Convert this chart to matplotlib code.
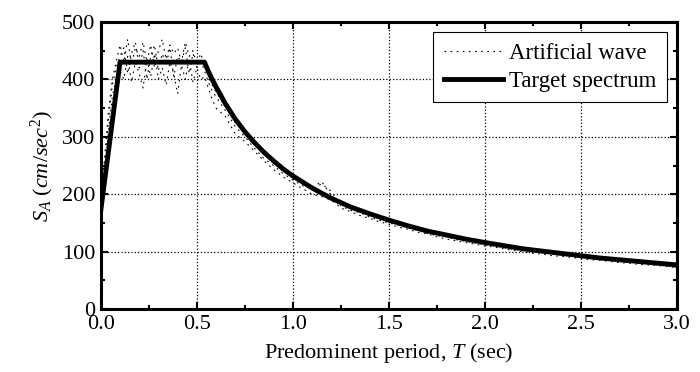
import numpy as np
import matplotlib
matplotlib.use('Agg')
import matplotlib.pyplot as plt
from matplotlib.ticker import MultipleLocator

plt.rcParams['font.family'] = 'Liberation Serif'
plt.rcParams['mathtext.fontset'] = 'custom'
plt.rcParams['mathtext.rm'] = 'Liberation Serif'
plt.rcParams['mathtext.it'] = 'Liberation Serif:italic'

# target design spectrum
t_target = [0.0, 0.1, 0.54, 0.56, 0.58, 0.6, 0.65, 0.7, 0.75, 0.8, 0.85, 0.9, 0.95, 1.0,
            1.1, 1.2, 1.3, 1.4, 1.5, 1.6, 1.7, 1.8, 1.9, 2.0, 2.2, 2.4, 2.6, 2.8, 3.0]
sa_target = [172, 430, 430, 414, 400, 387, 357, 331, 309, 290, 273, 258, 244, 232,
             211, 193, 178, 166, 155, 145, 136, 129, 122, 116, 105, 97, 89, 83, 77]

# artificial waves (periods)
t_short = [0.00, 0.02, 0.04, 0.06, 0.08, 0.10, 0.12, 0.14, 0.16, 0.18, 0.20, 0.22, 0.24,
           0.26, 0.28, 0.30, 0.32, 0.34, 0.36, 0.38, 0.40, 0.42, 0.44, 0.46, 0.48, 0.50,
           0.52, 0.54, 0.56, 0.58, 0.60]
t_long = [0.65, 0.70, 0.75, 0.80, 0.85, 0.90, 0.95, 1.00, 1.05, 1.10, 1.15, 1.20, 1.25,
          1.30, 1.35, 1.40, 1.45, 1.50, 1.55, 1.60, 1.65, 1.70, 1.75, 1.80, 1.85, 1.90,
          1.95, 2.00, 2.05, 2.10, 2.15, 2.20, 2.25, 2.30, 2.35, 2.40, 2.45, 2.50, 2.55,
          2.60, 2.65, 2.70, 2.75, 2.80, 2.85, 2.90, 2.95, 3.00]

wave1 = [180, 250, 330, 390, 420, 440, 455, 410, 445, 465, 420, 450, 400, 440, 460, 415,
         445, 425, 455, 405, 440, 430, 455, 410, 445, 420, 435, 415, 395, 380, 370,
         345, 318, 300, 280, 262, 250, 236, 225, 215, 210, 218, 205, 180, 172, 168, 160,
         155, 150, 146, 141, 137, 132, 128, 126, 121, 118, 115, 112, 110, 107, 104, 102,
         100, 98, 96, 94, 92, 90, 88, 87, 85, 83, 82, 80, 79, 77, 75, 73]
wave2 = [175, 230, 310, 370, 400, 415, 400, 440, 395, 430, 410, 385, 435, 405, 445, 400,
         420, 390, 430, 410, 375, 425, 400, 435, 395, 420, 400, 405, 385, 365, 350,
         335, 305, 292, 275, 258, 243, 230, 220, 210, 200, 196, 190, 176, 170, 163, 158,
         152, 148, 143, 139, 134, 131, 126, 122, 119, 116, 113, 110, 108, 105, 102, 100,
         97, 96, 93, 92, 90, 88, 86, 85, 83, 81, 80, 78, 77, 76, 74, 72]
wave3 = [190, 265, 345, 400, 430, 460, 430, 470, 425, 455, 440, 465, 430, 460, 420, 450,
         470, 435, 460, 445, 455, 430, 465, 440, 450, 425, 445, 425, 405, 390, 378,
         352, 325, 308, 290, 270, 255, 240, 228, 218, 212, 222, 198, 185, 175, 170, 164,
         158, 153, 148, 144, 139, 134, 131, 127, 123, 120, 117, 114, 111, 108, 106, 103,
         101, 99, 97, 95, 93, 91, 89, 88, 86, 84, 83, 81, 80, 78, 76, 75]

t_wave = t_short + t_long

fig = plt.figure(figsize=(7, 3.72), dpi=100)
ax = fig.add_axes([0.144, 0.169, 0.823, 0.772])

for i, w in enumerate([wave1, wave2, wave3]):
    ax.plot(t_wave, w, color='black', linestyle=(0, (1.5, 4)), linewidth=0.8,
            label='Artificial wave' if i == 0 else None)
ax.plot(t_target, sa_target, color='black', linewidth=3.5, label='Target spectrum')

ax.set_xlim(0, 3)
ax.set_ylim(0, 500)
ax.xaxis.set_major_locator(MultipleLocator(0.5))
ax.xaxis.set_minor_locator(MultipleLocator(0.25))
ax.yaxis.set_major_locator(MultipleLocator(100))
ax.yaxis.set_minor_locator(MultipleLocator(50))
ax.xaxis.set_major_formatter(matplotlib.ticker.FormatStrFormatter('%.1f'))
ax.tick_params(which='both', direction='in', top=True, right=True, labelsize=16, width=1.5)
ax.tick_params(which='major', length=5, pad=4)
ax.tick_params(which='minor', length=3)
ax.grid(True, which='major', color='black', linestyle=':', linewidth=0.9)
for s in ax.spines.values():
    s.set_linewidth(2.2)

ax.set_xlabel('Predominent period, $T$ (sec)', fontsize=16, labelpad=5)
ax.set_ylabel('$S_A$ $(cm/sec^2)$', fontsize=16, labelpad=4)

leg = ax.legend(loc='upper right', fontsize=16.5, fancybox=False, framealpha=1,
                edgecolor='black', borderaxespad=0.45, handlelength=2.6,
                handletextpad=0.25, borderpad=0.45, labelspacing=0.3)
leg.get_frame().set_linewidth(0.8)

fig.savefig('out.png', dpi=100)
